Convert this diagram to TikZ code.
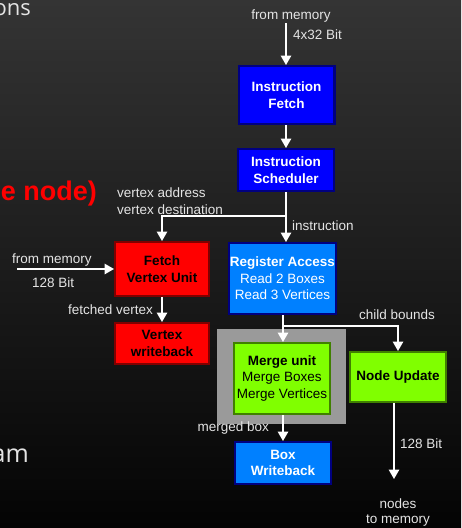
\documentclass[tikz,border=0pt]{standalone}
\usepackage{fontspec}
\setmainfont{Liberation Sans}
\newfontfamily\slidefont{Open Sans}
\usetikzlibrary{arrows.meta}

\definecolor{bgtop}{RGB}{52,52,52}
\definecolor{bgbot}{RGB}{4,4,4}
\definecolor{ctrlblue}{RGB}{0,0,255}
\definecolor{navyedge}{RGB}{0,0,128}
\definecolor{regblue}{RGB}{0,128,255}
\definecolor{vtxred}{RGB}{255,0,0}
\definecolor{vtxedge}{RGB}{128,0,0}
\definecolor{mrglime}{RGB}{128,255,0}
\definecolor{mrgedge}{RGB}{64,128,0}
\definecolor{panelgray}{RGB}{154,154,154}
\definecolor{labelgray}{RGB}{228,228,228}

\tikzset{
  unit/.style={draw, line width=2.4pt, inner sep=0pt, align=center,
    font=\fontsize{13.5}{16.5}\selectfont},
  ctrlunit/.style={unit, fill=ctrlblue, draw=navyedge, text=white},
  regunit/.style={unit, fill=regblue, draw=navyedge, text=white},
  vtxunit/.style={unit, fill=vtxred, draw=vtxedge, text=black},
  mrgunit/.style={unit, fill=mrglime, draw=mrgedge, text=black},
  lbl/.style={inner sep=0pt, text=labelgray, font=\fontsize{13.5}{15.5}\selectfont},
  wire/.style={draw=white, line width=1.6pt},
  arr/.style={wire, -{Triangle[width=10.5pt,length=9.5pt]}},
}

\begin{document}
\begin{tikzpicture}[x=1pt,y=-1pt]
  % slide background
  \shade[top color=bgtop, bottom color=bgbot] (0,0) rectangle (461,528);
  \useasboundingbox (0,0) rectangle (461,528);
  \clip (0,0) rectangle (461,528);

  % fragments of the slide text
  \node[anchor=base east, inner sep=0pt, text=labelgray,
        font=\slidefont\fontsize{22}{24}\selectfont] (tOns) at (31,15) {ons};
  \node[anchor=base east, inner sep=0pt, text=vtxred,
        font=\bfseries\fontsize{27}{30}\selectfont] (tNode) at (97,200) {e node)};
  \node[anchor=base east, inner sep=0pt, text=labelgray,
        font=\slidefont\fontsize{25}{28}\selectfont] (tAm) at (29,462) {am};

  % grey panel behind the merge unit
  \fill[panelgray] (217,329) rectangle (346,424);

  % units
  \node[ctrlunit, minimum width=95.6pt, minimum height=57.6pt] (IF) at (286.5,95)
    {\textbf{Instruction}\\\textbf{Fetch}};
  \node[ctrlunit, minimum width=95.6pt, minimum height=41.6pt] (IS) at (286,170)
    {\textbf{Instruction}\\\textbf{Scheduler}};
  \node[regunit, minimum width=106.6pt, minimum height=70.6pt] (RA) at (282.5,278.5)
    {\textbf{Register Access}\\Read 2 Boxes\\Read 3 Vertices};
  \node[vtxunit, minimum width=93.6pt, minimum height=53.6pt] (FV) at (162,269)
    {\textbf{Fetch}\\\textbf{Vertex Unit}};
  \node[vtxunit, minimum width=93.6pt, minimum height=40.6pt] (VW) at (162,343.5)
    {\textbf{Vertex}\\\textbf{writeback}};
  \node[mrgunit, minimum width=95.6pt, minimum height=70.6pt] (MU) at (282,378.5)
    {\textbf{Merge unit}\\Merge Boxes\\Merge Vertices};
  \node[mrgunit, minimum width=95.6pt, minimum height=49.6pt] (NU) at (398,377)
    {\textbf{Node Update}};
  \node[regunit, minimum width=95.6pt, minimum height=41.6pt] (BW) at (283,463)
    {\textbf{Box}\\\textbf{Writeback}};

  % free ends and junctions
  \coordinate (memtop) at (286,23);
  \coordinate (memleft) at (17,269);
  \coordinate (j1) at (286,216);
  \coordinate (j2) at (283,326);
  \coordinate (nodesout) at (394,479);

  % connectors
  \draw[arr] (memtop) -- (memtop |- IF.north);
  \draw[arr] (IF.south -| memtop) -- (memtop |- IS.north);
  \draw[arr] (IS.south -| j1) -- (j1 |- RA.north);
  \draw[arr] (j1) -| (FV.north);
  \draw[arr] (memleft) -- (memleft -| FV.west);
  \draw[arr] (FV.south) -- (VW.north);
  \draw[wire] (RA.south -| j2) -- (j2);
  \draw[arr] (j2) -- (j2 |- MU.north);
  \draw[arr] (j2) -| (NU.north);
  \draw[arr] (MU.south -| j2) -- (j2 |- BW.north);
  \draw[arr] (NU.south -| nodesout) -- (nodesout);

  % connector labels
  \node[lbl, anchor=base] (lMemTop) at (291,19) {from memory};
  \node[lbl, anchor=base west] (lWide) at (293,39) {4x32 Bit};
  \node[lbl, anchor=base west] (lVaddr) at (117,197) {vertex address};
  \node[lbl, anchor=base west] (lVdest) at (117,214) {vertex destination};
  \node[lbl, anchor=base west] (lInstr) at (292,230) {instruction};
  \node[lbl, anchor=base west] (lMemLeft) at (12,263) {from memory};
  \node[lbl, anchor=base west] (lBitsLeft) at (32,287) {128 Bit};
  \node[lbl, anchor=base east] (lFetched) at (153,314) {fetched vertex};
  \node[lbl, anchor=base west] (lChild) at (359,319) {child bounds};
  \node[lbl, anchor=base east] (lMerged) at (269,431) {merged box};
  \node[lbl, anchor=base west] (l128R) at (400,448) {128 Bit};
  \node[lbl, anchor=base] (lNodes) at (398,508) {nodes};
  \node[lbl, anchor=base] (lToMem) at (398,523) {to memory};
\end{tikzpicture}
\end{document}
